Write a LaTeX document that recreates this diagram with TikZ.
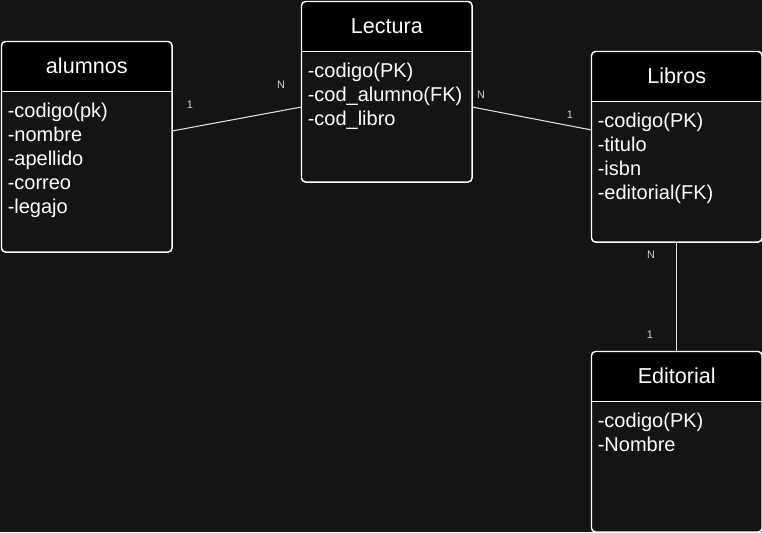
\documentclass[tikz,border=0pt]{standalone}
\usepackage{fontspec}
\setmainfont{Liberation Sans}
\usetikzlibrary{calc}
\definecolor{bg}{HTML}{141414}
\definecolor{lbl}{HTML}{D0D0D0}
\definecolor{edge}{HTML}{E0E0E0}
\tikzset{
  x=0.75pt, y=-0.75pt,
  boxline/.style={draw=white, line width=1.1pt},
  titletext/.style={text=white, font=\fontsize{16.2}{19}\selectfont, inner sep=0, anchor=base},
  attrs/.style={text=white, font=\fontsize{15}{18}\selectfont, align=left, anchor=north west, inner sep=0},
  rel/.style={draw=edge, line width=0.8pt},
  card/.style={text=lbl, font=\fontsize{8.2}{10}\selectfont, inner sep=0},
}
\newcommand{\erbox}[7]{%
  \node[minimum width=#4*0.75pt, minimum height=#5*0.75pt, inner sep=0, anchor=north west] (#1) at (#2,#3) {};
  \begin{scope}
    \clip[rounded corners=3pt] (#1.north west) rectangle (#1.south east);
    \fill[bg] (#1.north west) rectangle (#1.south east);
    \fill[black] (#1.north west) rectangle ($(#1.north east)+(0,50)$);
  \end{scope}
  \draw[boxline, rounded corners=3pt] (#1.north west) rectangle (#1.south east);
  \draw[boxline] ($(#1.north west)+(0,50)$) -- ($(#1.north east)+(0,50)$);
  \node[titletext] (#1-t) at ($(#1.north)+(0,31.5)$) {#6};
  \node[attrs] (#1-b) at ($(#1.north west)+(6,57.5)$) {\rule{0pt}{14pt}#7};
}
\begin{document}
\begin{tikzpicture}
\fill[bg] (0,0) rectangle (762,532);
\useasboundingbox (0,0) rectangle (762,532);

\erbox{alu}{1.5}{41.5}{170}{210}{alumnos}{-codigo(pk)\\-nombre\\-apellido\\-correo\\-legajo}
\erbox{lec}{301.5}{1.5}{170}{180}{Lectura}{-codigo(PK)\\-cod\_alumno(FK)\\-cod\_libro}
\erbox{lib}{591.5}{51.5}{170}{190}{Libros}{-codigo(PK)\\-titulo\\-isbn\\-editorial(FK)}
\erbox{edi}{591.5}{351.5}{170}{180}{Editorial}{-codigo(PK)\\-Nombre}

\coordinate (a1) at ($(alu.north east)+(0,89.5)$);
\coordinate (l1) at ($(lec.north west)+(0,105.5)$);
\coordinate (l2) at ($(lec.north east)+(0,105.5)$);
\coordinate (b1) at ($(lib.north west)+(0,78.5)$);
\draw[rel] (a1) -- (l1);
\draw[rel] (l2) -- (b1);
\draw[rel] (lib.south) -- (edi.north);

\node[card] (c1) at (190,104.5) {1};
\node[card] (c2) at (281,85) {N};
\node[card] (c3) at (481,95) {N};
\node[card] (c4) at (570,115) {1};
\node[card] (c5) at (651,254.5) {N};
\node[card] (c6) at (650,335) {1};
\end{tikzpicture}
\end{document}
